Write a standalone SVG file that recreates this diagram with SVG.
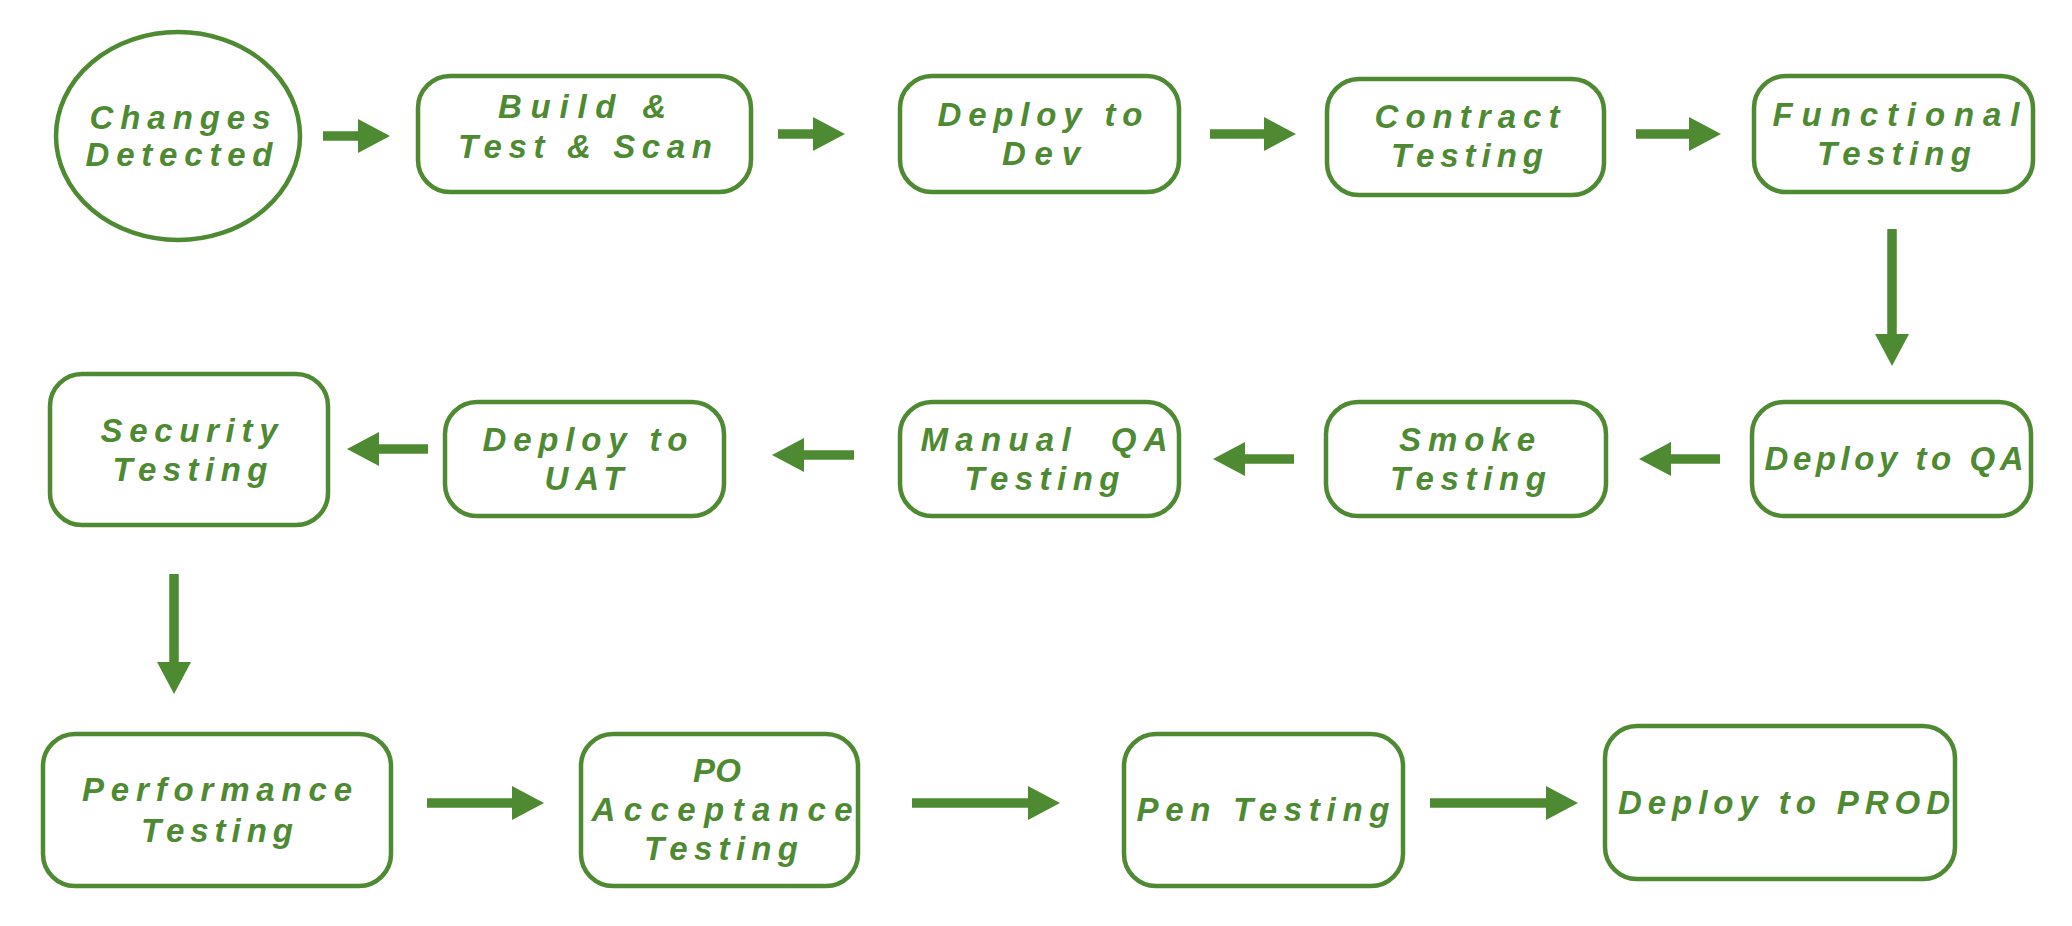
<svg xmlns="http://www.w3.org/2000/svg" width="2072" height="926" viewBox="0 0 2072 926">
<style>
.n{fill:#fff;stroke:#4e8a32;stroke-width:4.5}
.t{font-family:"Liberation Sans",Arial,sans-serif;font-size:33px;font-weight:bold;font-style:italic;fill:#4e8a32;text-anchor:middle;white-space:pre}
.c{stroke:#4e8a32;stroke-width:9.5;fill:none;marker-end:url(#ah)}
</style>
<defs>
<marker id="ah" markerUnits="userSpaceOnUse" markerWidth="32" markerHeight="34" viewBox="0 0 32 34" refX="2" refY="17" orient="auto">
<path d="M0,0 L32,17 L0,34 Z" fill="#4e8a32"/>
</marker>
</defs>
<rect width="2072" height="926" fill="#fff"/>
<g id="connectors">
<line class="c" x1="323" y1="136" x2="360" y2="136"/>
<line class="c" x1="778" y1="134" x2="815" y2="134"/>
<line class="c" x1="1210" y1="134" x2="1266" y2="134"/>
<line class="c" x1="1636" y1="134" x2="1691" y2="134"/>
<line class="c" x1="1892" y1="229" x2="1892" y2="336"/>
<line class="c" x1="1720" y1="459" x2="1669" y2="459"/>
<line class="c" x1="1294" y1="459" x2="1243" y2="459"/>
<line class="c" x1="854" y1="455" x2="802" y2="455"/>
<line class="c" x1="428" y1="449" x2="377" y2="449"/>
<line class="c" x1="174" y1="574" x2="174" y2="664"/>
<line class="c" x1="427" y1="803" x2="514" y2="803"/>
<line class="c" x1="912" y1="803" x2="1030" y2="803"/>
<line class="c" x1="1430" y1="803" x2="1548" y2="803"/>
</g>
<g id="changes-detected">
<ellipse class="n" cx="178" cy="136" rx="122" ry="104"/>
<text class="t" x="180" y="129" textLength="181">Changes</text>
<text class="t" x="179" y="166" textLength="187">Detected</text>
</g>
<g id="build">
<rect class="n" x="418" y="76" width="333" height="116" rx="32"/>
<text class="t" x="582" y="118" textLength="168">Build &amp;</text>
<text class="t" x="585" y="158" textLength="254">Test &amp; Scan</text>
</g>
<g id="deploy-dev">
<rect class="n" x="900" y="76" width="279" height="116" rx="32"/>
<text class="t" x="1040" y="126" textLength="205">Deploy to</text>
<text class="t" x="1041" y="165" textLength="78">Dev</text>
</g>
<g id="contract">
<rect class="n" x="1327" y="79" width="277" height="116" rx="32"/>
<text class="t" x="1467" y="128" textLength="185">Contract</text>
<text class="t" x="1467" y="167" textLength="152">Testing</text>
</g>
<g id="functional">
<rect class="n" x="1754" y="76" width="279" height="116" rx="32"/>
<text class="t" x="1896" y="126" textLength="247">Functional</text>
<text class="t" x="1894" y="165" textLength="154">Testing</text>
</g>
<g id="deploy-qa">
<rect class="n" x="1752" y="402" width="279" height="114" rx="32"/>
<text class="t" x="1894" y="470" textLength="259">Deploy to QA</text>
</g>
<g id="smoke">
<rect class="n" x="1326" y="402" width="280" height="114" rx="32"/>
<text class="t" x="1467" y="451" textLength="136">Smoke</text>
<text class="t" x="1468" y="490" textLength="156">Testing</text>
</g>
<g id="manual-qa">
<rect class="n" x="900" y="402" width="279" height="114" rx="32"/>
<text class="t" x="1044" y="451" textLength="247">Manual  QA</text>
<text class="t" x="1042" y="490" textLength="155">Testing</text>
</g>
<g id="deploy-uat">
<rect class="n" x="445" y="402" width="279" height="114" rx="32"/>
<text class="t" x="585" y="451" textLength="205">Deploy to</text>
<text class="t" x="584" y="490" textLength="79">UAT</text>
</g>
<g id="security">
<rect class="n" x="50" y="374" width="278" height="151" rx="32"/>
<text class="t" x="189" y="442" textLength="177">Security</text>
<text class="t" x="190" y="481" textLength="155">Testing</text>
</g>
<g id="performance">
<rect class="n" x="43" y="734" width="348" height="152" rx="32"/>
<text class="t" x="217" y="801" textLength="270">Performance</text>
<text class="t" x="217" y="842" textLength="152">Testing</text>
</g>
<g id="po-acceptance">
<rect class="n" x="581" y="734" width="277" height="152" rx="32"/>
<text class="t" x="717" y="782" textLength="48">PO</text>
<text class="t" x="722" y="821" textLength="261">Acceptance</text>
<text class="t" x="721" y="860" textLength="154">Testing</text>
</g>
<g id="pen">
<rect class="n" x="1124" y="734" width="279" height="152" rx="32"/>
<text class="t" x="1263" y="821" textLength="253">Pen Testing</text>
</g>
<g id="deploy-prod">
<rect class="n" x="1605" y="726" width="350" height="153" rx="32"/>
<text class="t" x="1784" y="814" textLength="332">Deploy to PROD</text>
</g>
</svg>
